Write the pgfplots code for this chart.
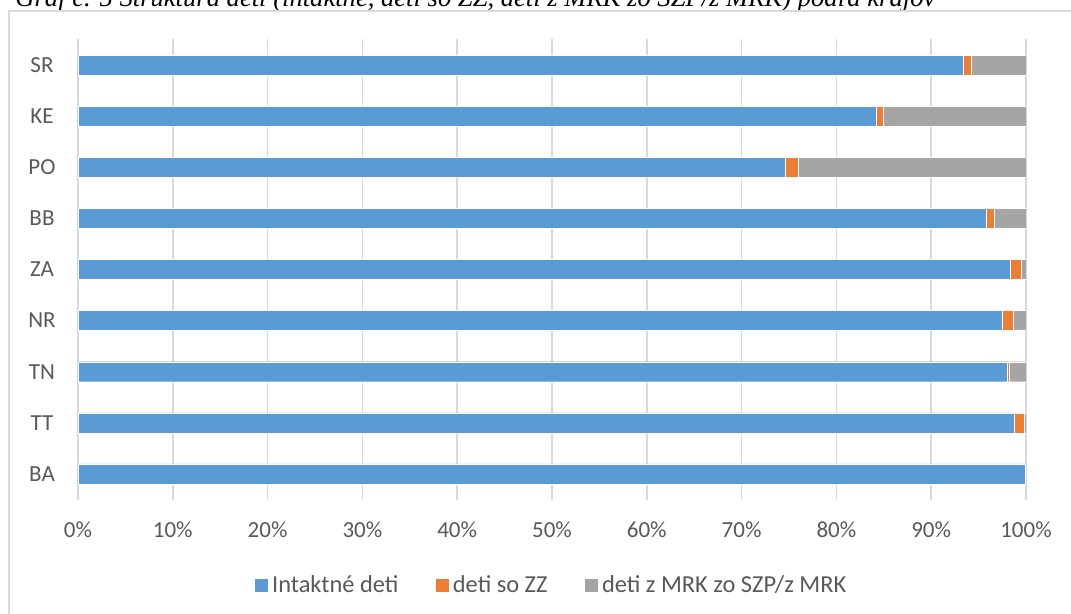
\documentclass[border=0pt]{standalone}
\usepackage{pgfplots}
\pgfplotsset{compat=1.18}
\usepackage{fontspec}
\setmainfont{Carlito}
\newfontfamily\titlefont{Liberation Serif}
\definecolor{cblue}{HTML}{5B9BD5}
\definecolor{corange}{HTML}{ED7D31}
\definecolor{cgray}{HTML}{A5A5A5}
\definecolor{ctext}{HTML}{595959}
\definecolor{cgrid}{HTML}{D9D9D9}
\begin{document}
\begin{tikzpicture}
\useasboundingbox (0,0) rectangle (535.5pt,-307pt);
\clip (0,0) rectangle (535.5pt,-307pt);
\node[anchor=base west, inner sep=0pt, font=\titlefont\itshape\fontsize{13.3}{15}\selectfont] at (7.5pt,-3.2pt)
  {Graf č. 5 Štruktúra detí (intaktné, deti so ZZ, deti z MRK zo SZP/z MRK) podľa krajov};
\draw[cgrid, line width=0.75pt] (4.5pt,-5.5pt) rectangle (600pt,-400pt);
\begin{axis}[
  at={(39pt,-249.75pt)}, anchor=south west,
  scale only axis, width=474pt, height=230pt,
  xbar stacked, bar width=10pt,
  xmin=0, xmax=100, ymin=-0.5, ymax=8.5,
  ytick={0,...,8},
  yticklabels={BA,TT,TN,NR,ZA,BB,PO,KE,SR},
  xtick={0,10,...,100},
  xticklabel={\pgfmathprintnumber{\tick}\%},
  /pgf/number format/assume math mode=true,
  major tick length=0pt,
  axis line style={draw=none},
  xmajorgrids, grid style={cgrid, line width=0.8pt},
  ticklabel style={font=\fontsize{11.5}{13}\selectfont, text=ctext},
  xticklabel style={anchor=center, yshift=-15pt},
  yticklabel style={anchor=center, xshift=-18pt},
  legend style={at={(0.5,-0.186)}, anchor=center, draw=none, legend columns=3,
    font=\fontsize{12.2}{14}\selectfont, text=ctext,
    /tikz/every even column/.append style={column sep=16pt},
    /tikz/every odd column/.append style={column sep=0pt}},
  legend image code/.code={\fill[#1] (0pt,-3.5pt) rectangle (7pt,3.5pt);},
  legend cell align=left,
]
\addplot[fill=cblue, draw=white, line width=0.2pt] coordinates {
(99.9,0) (98.8,1) (98.0,2) (97.5,3) (98.35,4) (95.8,5) (74.6,6) (84.2,7) (93.4,8)};
\addplot[fill=corange, draw=white, line width=0.2pt] coordinates {
(0.1,0) (1.0,1) (0.2,2) (1.2,3) (1.15,4) (0.8,5) (1.4,6) (0.75,7) (0.8,8)};
\addplot[fill=cgray, draw=white, line width=0.2pt] coordinates {
(0.0,0) (0.2,1) (1.8,2) (1.3,3) (0.5,4) (3.4,5) (24.0,6) (15.05,7) (5.8,8)};
\legend{Intaktné deti, deti so ZZ, deti z MRK zo SZP/z MRK}
\end{axis}
\end{tikzpicture}
\end{document}
